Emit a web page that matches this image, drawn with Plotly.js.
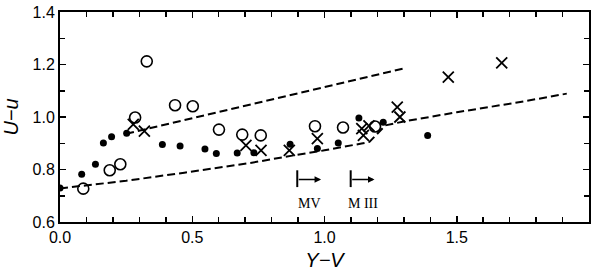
<!DOCTYPE html>
<html>
<head>
<meta charset="utf-8">
<script src="https://cdn.plot.ly/plotly-3.0.1.min.js"></script>
<style>html,body{margin:0;padding:0;background:#fff;}#chart{width:600px;height:271px;}</style>
</head>
<body>
<div id="chart"></div>
<script>
// Filled circles
const filledX = [0.000, 0.082, 0.134, 0.164, 0.195, 0.252, 0.387, 0.454, 0.548, 0.591, 0.670, 0.733, 0.870, 0.973, 1.052, 1.130, 1.222, 1.390];
const filledY = [0.730, 0.782, 0.820, 0.901, 0.925, 0.938, 0.895, 0.890, 0.878, 0.861, 0.863, 0.864, 0.896, 0.880, 0.901, 0.996, 0.980, 0.930];
// Open circles
const openX = [0.088, 0.188, 0.228, 0.284, 0.328, 0.435, 0.502, 0.601, 0.689, 0.759, 0.964, 1.070, 1.191];
const openY = [0.727, 0.797, 0.820, 0.998, 1.212, 1.045, 1.041, 0.952, 0.933, 0.930, 0.965, 0.960, 0.964];
// Crosses
const crossX = [0.277, 0.319, 0.703, 0.760, 0.867, 0.973, 1.141, 1.147, 1.168, 1.275, 1.285, 1.468, 1.670];
const crossY = [0.972, 0.946, 0.892, 0.873, 0.873, 0.918, 0.956, 0.930, 0.966, 1.038, 1.000, 1.152, 1.206];
// Dashed upper curve
const upperX = [0.25, 0.50, 0.75, 1.00, 1.296];
const upperY = [0.936, 0.995, 1.054, 1.114, 1.184];
// Dashed lower curve
const lowerX = [0.00, 0.25, 0.47, 0.72, 0.89, 1.00, 1.14, 1.17, 1.23, 1.30, 1.50, 1.74, 1.916];
const lowerY = [0.728, 0.757, 0.788, 0.825, 0.855, 0.873, 0.899, 0.905, 0.968, 0.983, 1.018, 1.057, 1.089];
// Spectral-type boundary labels
const specLabels = ['MV', 'M III'];
const specX = [0.897, 1.099];

const black = '#000';
const traces = [
  {x: upperX, y: upperY, mode: 'lines', line: {color: black, width: 2, dash: '8px,4px'}, hoverinfo: 'skip'},
  {x: lowerX, y: lowerY, mode: 'lines', line: {color: black, width: 2, dash: '8px,4px'}, hoverinfo: 'skip'},
  {x: filledX, y: filledY, mode: 'markers', marker: {symbol: 'circle', size: 7, color: black}},
  {x: openX, y: openY, mode: 'markers', marker: {symbol: 'circle-open', size: 11, color: black, line: {width: 1.6, color: black}}},
  {x: crossX, y: crossY, mode: 'markers', marker: {symbol: 'x-thin-open', size: 11, color: black, line: {width: 1.8, color: black}}}
];

const shapes = specX.map(x => ({type: 'line', xref: 'x', yref: 'y', x0: x, x1: x, y0: 0.733, y1: 0.797, line: {color: black, width: 2}}));
const annotations = [];
specX.forEach((x, i) => {
  annotations.push({x: x + 0.09, y: 0.762, ax: x, ay: 0.762, axref: 'x', ayref: 'y', xref: 'x', yref: 'y', text: '', showarrow: true, arrowhead: 2, arrowsize: 1, arrowwidth: 1.3, arrowcolor: black});
  annotations.push({x: x + 0.045, y: 0.672, xref: 'x', yref: 'y', text: specLabels[i], showarrow: false, font: {family: 'Liberation Serif, serif', size: 14, color: black}});
});

const tickFont = {family: 'Liberation Sans, Arial, sans-serif', size: 16, color: black};
const layout = {
  width: 600, height: 271,
  margin: {l: 60, r: 11, t: 12, b: 49},
  showlegend: false,
  paper_bgcolor: '#fff', plot_bgcolor: '#fff',
  xaxis: {
    range: [0, 2.0], dtick: 0.5, tick0: 0, tickformat: '.1f',
    ticks: 'inside', ticklen: 6, tickwidth: 1.5, tickcolor: black,
    minor: {dtick: 0.1, ticks: 'inside', ticklen: 5, tickwidth: 1.5, tickcolor: black},
    showline: true, linecolor: black, linewidth: 2, mirror: 'ticks',
    showgrid: false, zeroline: false, tickfont: tickFont,
    title: {text: 'Y\u2212V', font: {family: 'Liberation Sans, Arial, sans-serif', size: 20, color: black, style: 'italic'}, standoff: 12}
  },
  yaxis: {
    range: [0.6, 1.4], dtick: 0.2, tick0: 0.6, tickformat: '.1f',
    ticks: 'inside', ticklen: 6, tickwidth: 1.5, tickcolor: black,
    minor: {dtick: 0.1, ticks: 'inside', ticklen: 5, tickwidth: 1.5, tickcolor: black},
    showline: true, linecolor: black, linewidth: 2, mirror: 'ticks',
    showgrid: false, zeroline: false, tickfont: tickFont,
    title: {text: 'U\u2212u', font: {family: 'Liberation Sans, Arial, sans-serif', size: 20, color: black, style: 'italic'}, standoff: 9}
  },
  shapes: shapes,
  annotations: annotations
};
Plotly.newPlot('chart', traces, layout, {staticPlot: true, displayModeBar: false});
</script>
</body>
</html>
